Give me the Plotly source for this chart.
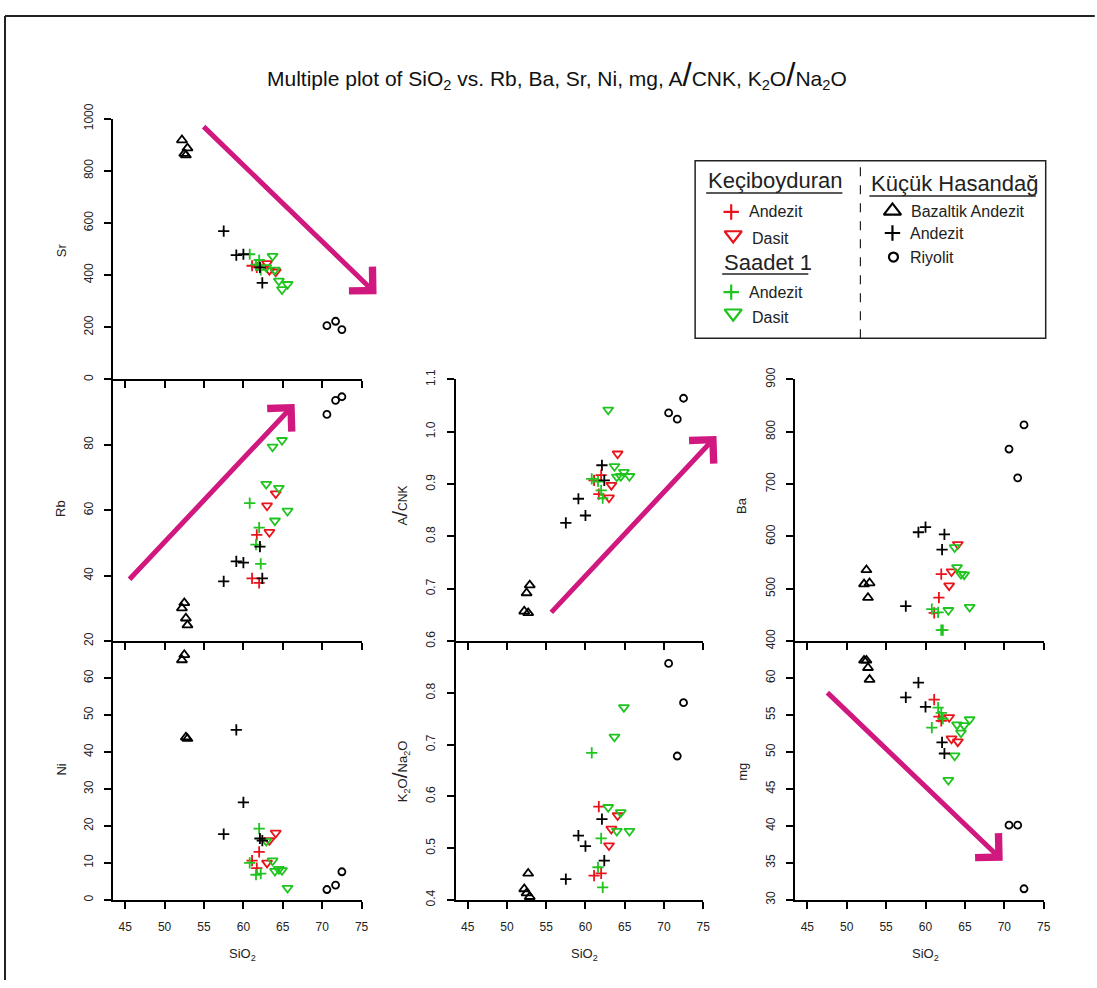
import plotly.graph_objects as go

W, H = 1097, 988
FONT = "Liberation Sans, Arial, Helvetica, sans-serif"

# ---------------- data ----------------
GROUPS = ["kec_and", "kec_das", "saa_and", "saa_das", "kh_ba", "kh_and", "kh_riy"]

SIO2 = {
    "kec_and": [61.1, 61.7, 62.0],
    "kec_das": [63.0, 63.3, 64.1],
    "saa_and": [60.8, 61.6, 62.0, 62.2],
    "saa_das": [62.9, 63.7, 64.0, 64.5, 64.9, 65.6],
    "kh_ba":   [52.2, 52.5, 52.7, 52.9],
    "kh_and":  [57.5, 59.1, 60.0, 62.1, 62.4],
    "kh_riy":  [70.6, 71.7, 72.5],
}
SR = {
    "kec_and": [436, 430, 440],
    "kec_das": [445, 419, 413],
    "saa_and": [480, 440, 458, 420],
    "saa_das": [430, 473, 420, 378, 345, 365],
    "kh_ba":   [918, 866, 860, 887],
    "kh_and":  [569, 477, 480, 430, 370],
    "kh_riy":  [206, 223, 191],
}
RB = {
    "kec_and": [39.2, 52.5, 37.8],
    "kec_das": [61.4, 53.3, 65.1],
    "saa_and": [62.2, 49.5, 54.7, 43.6],
    "saa_das": [68.0, 79.4, 56.8, 66.8, 81.4, 59.8],
    "kh_ba":   [30.1, 31.7, 27.0, 24.9],
    "kh_and":  [38.3, 44.4, 44.0, 48.9, 39.2],
    "kh_riy":  [89.3, 93.6, 94.7],
}
NI = {
    "kec_and": [10.6, 8.6, 13.0],
    "kec_das": [10.0, 16.1, 18.1],
    "saa_and": [10.0, 6.8, 19.3, 7.1],
    "saa_das": [15.9, 10.6, 7.8, 8.3, 8.0, 3.2],
    "kh_ba":   [64.9, 66.3, 44.0, 43.6],
    "kh_and":  [17.8, 46.0, 26.4, 16.6, 16.0],
    "kh_riy":  [2.8, 4.0, 7.6],
}
ACNK = {
    "kec_and": [0.907, 0.881, 0.917],
    "kec_das": [0.874, 0.898, 0.958],
    "saa_and": [0.910, 0.905, 0.888, 0.873],
    "saa_das": [1.042, 0.934, 0.914, 0.915, 0.923, 0.915],
    "kh_ba":   [0.657, 0.692, 0.654, 0.707],
    "kh_and":  [0.826, 0.872, 0.840, 0.936, 0.907],
    "kh_riy":  [1.036, 1.024, 1.064],
}
K2O_NA2O = {
    "kec_and": [0.447, 0.580, 0.451],
    "kec_das": [0.505, 0.537, 0.563],
    "saa_and": [0.684, 0.463, 0.519, 0.424],
    "saa_das": [0.579, 0.715, 0.533, 0.569, 0.772, 0.533],
    "kh_ba":   [0.421, 0.413, 0.451, 0.406],
    "kh_and":  [0.440, 0.524, 0.504, 0.556, 0.476],
    "kh_riy":  [0.857, 0.678, 0.781],
}
BA = {
    "kec_and": [454, 483, 528],
    "kec_das": [506, 533, 585],
    "saa_and": [461, 455, 421, 421],
    "saa_das": [459, 579, 541, 528, 527, 465],
    "kh_ba":   [509, 536, 483, 511],
    "kh_and":  [467, 608, 618, 575, 604],
    "kh_riy":  [767, 712, 813],
}
MG = {
    "kec_and": [57.1, 54.8, 54.2],
    "kec_das": [54.7, 51.8, 51.4],
    "saa_and": [53.3, 56.0, 55.3, 54.5],
    "saa_das": [46.2, 49.5, 53.7, 52.6, 53.6, 54.4],
    "kh_ba":   [62.4, 62.4, 61.4, 59.8],
    "kh_and":  [57.4, 59.4, 56.1, 51.3, 49.8],
    "kh_riy":  [40.1, 40.1, 31.5],
}

X_TICKS = [45, 50, 55, 60, 65, 70, 75]
SR_TICKS = [0, 200, 400, 600, 800, 1000]
RB_TICKS = [20, 40, 60, 80]
NI_TICKS = [0, 10, 20, 30, 40, 50, 60]
ACNK_TICKS = [0.6, 0.7, 0.8, 0.9, 1.0, 1.1]
K2O_TICKS = [0.4, 0.5, 0.6, 0.7, 0.8]
BA_TICKS = [400, 500, 600, 700, 800, 900]
MG_TICKS = [30, 35, 40, 45, 50, 55, 60]

# ---------------- styling ----------------
RED, GREEN, BLACK = "#E8141C", "#1FC41F", "#000000"
MAGENTA = "#D0187F"
STYLE = {
    "kec_and": ("cross-thin-open", RED, 8),
    "kec_das": ("triangle-down-open", RED, 9),
    "saa_and": ("cross-thin-open", GREEN, 8),
    "saa_das": ("triangle-down-open", GREEN, 9),
    "kh_ba":   ("triangle-up-open", BLACK, 9),
    "kh_and":  ("cross-thin-open", BLACK, 8),
    "kh_riy":  ("circle-open", BLACK, 7),
}
NAMES = {
    "kec_and": "Keçiboyduran Andezit", "kec_das": "Keçiboyduran Dasit",
    "saa_and": "Saadet 1 Andezit", "saa_das": "Saadet 1 Dasit",
    "kh_ba": "Küçük Hasandağ Bazaltik Andezit", "kh_and": "Küçük Hasandağ Andezit",
    "kh_riy": "Küçük Hasandağ Riyolit",
}

# Target positions are given in picture pixels; FX/FY map them into the
# figure's own pixel space (the photographed page comes out slightly
# shifted/scaled, measured on earlier runs).
SX, OX = 0.992, 1.0
SY, OY = 0.974, 15.6


def FX(X):
    return (X - OX) / SX


def FY(Y):
    return (Y - OY) / SY


def PX(X):
    return FX(X) / W


def PY(Y):
    return 1 - FY(Y) / H


# x position of ticks 45 and 75 per column; y pixel (top, bottom) per row
COL_PX = {1: (126, 362), 2: (468, 703), 3: (807, 1043)}
ROW_PX = {0: (119, 379), 1: (379, 640), 2: (640, 898)}
X_LEFT = 43.5

PANELS = [
    (SR, 1, 0, [0, 1000], SR_TICKS, "d", "Sr", (62, 250)),
    (RB, 1, 1, [20, 100], RB_TICKS, "d", "Rb", (62, 508)),
    (NI, 1, 2, [0, 70], NI_TICKS, "d", "Ni", (62, 768)),
    (ACNK, 2, 1, [0.6, 1.1], ACNK_TICKS, ".1f",
     "A<span style='font-size:21px'>/</span><span style='font-size:12px'>CNK</span>", (400, 505)),
    (K2O_NA2O, 2, 2, [0.4, 0.9], K2O_TICKS, ".1f",
     "K<sub>2</sub>O<span style='font-size:21px'>/</span>Na<sub>2</sub>O", (400, 770)),
    (BA, 3, 1, [400, 900], BA_TICKS, "d", "Ba", (742, 505)),
    (MG, 3, 2, [30, 65], MG_TICKS, "d", "mg", (742, 770)),
]


def xdom(col):
    p45, p75 = COL_PX[col]
    ppu = (p75 - p45) / 30.0
    left = p45 - (45 - X_LEFT) * ppu
    return [PX(left), PX(p75)]


def ydom(row):
    t, b = ROW_PX[row]
    return [PY(b), PY(t)]


def px_of(col, row, yr, xv, yv):
    p45, p75 = COL_PX[col]
    px = p45 + (xv - 45) * (p75 - p45) / 30.0
    t, b = ROW_PX[row]
    py = b - (yv - yr[0]) * (b - t) / (yr[1] - yr[0])
    return px, py


def ann(text, px, py, size, xanchor="center", angle=0, color="#222222"):
    return dict(text=text, x=PX(px), y=PY(py), xref="paper", yref="paper",
                xanchor=xanchor, yanchor="middle", showarrow=False, textangle=angle,
                font=dict(family=FONT, size=size, color=color))


fig = go.Figure()
layout = dict()
annotations = []
shapes = []
tickfont = dict(family=FONT, size=12, color="#222222")

for i, (data, col, row, yr, yt, fmt, lab, lpos) in enumerate(PANELS):
    n = i + 1
    xs = "x" if n == 1 else f"x{n}"
    ys = "y" if n == 1 else f"y{n}"
    for g in GROUPS:
        sym, colr, sz = STYLE[g]
        fig.add_trace(go.Scatter(
            x=SIO2[g], y=data[g], mode="markers", name=NAMES[g], showlegend=False,
            xaxis=xs, yaxis=ys, cliponaxis=False,
            marker=dict(symbol=sym, size=sz, color=colr, line=dict(color=colr, width=1.8)),
        ))
    layout["xaxis" if n == 1 else f"xaxis{n}"] = dict(
        domain=xdom(col), range=[X_LEFT, 75], anchor=ys, showline=True,
        linecolor="black", linewidth=2, ticks="outside", ticklen=7, tickwidth=2,
        tickcolor="black", tickmode="array", tickvals=X_TICKS,
        showticklabels=(row == 2), showgrid=False, zeroline=False,
        tickfont=tickfont, ticklabelstandoff=8,
    )
    layout["yaxis" if n == 1 else f"yaxis{n}"] = dict(
        domain=ydom(row), range=yr, anchor=xs, showline=True,
        linecolor="black", linewidth=2, ticks="outside", ticklen=7, tickwidth=2,
        tickcolor="black", tickmode="array", tickvals=yt, tickformat=fmt,
        tickangle=-90, showgrid=False, zeroline=False, tickfont=tickfont,
        ticklabelstandoff=7,
    )
    annotations.append(ann(lab, lpos[0], lpos[1], 13, angle=-90))

for cx in (243, 585, 925):
    annotations.append(ann("SiO<sub>2</sub>", cx, 952, 13))

annotations.append(ann(
    "Multiple plot of SiO<sub>2</sub> vs. Rb, Ba, Sr, Ni, mg, "
    "A<span style='font-size:33px'>/</span>CNK, "
    "K<sub>2</sub>O<span style='font-size:33px'>/</span>Na<sub>2</sub>O",
    557, 75, 21, color="#111111"))

# trend arrows (tail -> tip), in each panel's data coordinates
ARROWS = [
    (0, (54.9, 960), (76.9, 327)),
    (1, (45.5, 39.7), (66.5, 92.5)),
    (3, (55.6, 0.66), (76.7, 0.992)),
    (6, (47.5, 57.7), (69.8, 35.3)),
]
for pi, tail, tip in ARROWS:
    _, col, row, yr = PANELS[pi][:4]
    tx, ty = px_of(col, row, yr, *tail)
    hx, hy = px_of(col, row, yr, *tip)
    annotations.append(dict(
        x=PX(hx), y=PY(hy), xref="paper", yref="paper",
        ax=FX(tx) - FX(hx), ay=FY(ty) - FY(hy),
        axref="pixel", ayref="pixel", text="", showarrow=True, arrowhead=4,
        arrowsize=1.3, arrowwidth=5, arrowcolor=MAGENTA, standoff=0,
    ))

# ---------------- legend box (pixel helper axis, picture pixels) ----------------
LX, LY = "x8", "y8"
layout["xaxis8"] = dict(domain=[0, 1], range=[OX, OX + SX * W], visible=False,
                        anchor="y8", fixedrange=True)
layout["yaxis8"] = dict(domain=[0, 1], range=[OY + SY * H, OY], visible=False,
                        anchor="x8", fixedrange=True)

LEG_ITEMS = [
    ("kec_and", 731, 212, "Andezit", 747, 212, 11),
    ("kec_das", 733, 235, "Dasit", 750, 238, 15),
    ("saa_and", 731, 292, "Andezit", 747, 292, 11),
    ("saa_das", 733, 313, "Dasit", 750, 317, 15),
    ("kh_ba", 892, 211, "Bazaltik Andezit", 909, 212, 15),
    ("kh_and", 892, 233, "Andezit", 908, 233, 11),
    ("kh_riy", 893, 257, "Riyolit", 908, 257, 9),
]
for g, mx, my, txt, tx, ty, sz in LEG_ITEMS:
    sym, colr, _ = STYLE[g]
    fig.add_trace(go.Scatter(
        x=[mx], y=[my], mode="markers", xaxis=LX, yaxis=LY, showlegend=False,
        hoverinfo="skip", cliponaxis=False,
        marker=dict(symbol=sym, size=sz, color=colr, line=dict(color=colr, width=2.2)),
    ))
    annotations.append(ann(txt, tx, ty, 16, xanchor="left"))

for txt, tx, ty, ux1 in (("Keçiboyduran", 706, 181, 842), ("Saadet 1", 722, 262, 808),
                          ("Küçük Hasandağ", 869, 184, 1035)):
    annotations.append(ann(txt, tx, ty, 22, xanchor="left"))
    shapes.append(dict(type="line", xref="paper", yref="paper", x0=PX(tx), x1=PX(ux1),
                       y0=PY(ty + 12), y1=PY(ty + 12),
                       line=dict(color="#222222", width=1.5)))

shapes.append(dict(type="rect", xref="paper", yref="paper", x0=PX(695), x1=PX(1045),
                   y0=PY(338), y1=PY(161), line=dict(color="#222222", width=1.5)))
shapes.append(dict(type="line", xref="paper", yref="paper", x0=PX(860), x1=PX(860),
                   y0=PY(338), y1=PY(161),
                   line=dict(color="#222222", width=1.2, dash="dash")))

# outer frame (left and top)
shapes.append(dict(type="line", xref="paper", yref="paper", x0=PX(6), x1=PX(6),
                   y0=0, y1=0.999, line=dict(color="#222222", width=2)))
shapes.append(dict(type="line", xref="paper", yref="paper", x0=PX(6), x1=PX(1094),
                   y0=0.999, y1=0.999, line=dict(color="#222222", width=2)))

fig.update_layout(
    width=W, height=H, margin=dict(l=0, r=0, t=0, b=0), autosize=False,
    paper_bgcolor="white", plot_bgcolor="rgba(0,0,0,0)",
    font=dict(family=FONT, size=12, color="#222222"),
    annotations=annotations, shapes=shapes, showlegend=False, **layout,
)

POST = (
    "document.documentElement.style.margin='0';"
    "document.body.style.margin='0';"
    "document.body.style.overflow='hidden';"
    "var gd=document.getElementById('{plot_id}');"
    "gd.style.position='fixed';gd.style.top='0px';gd.style.left='0px';"
)
fig.write_html("out.html", config={"displayModeBar": False, "responsive": False},
               post_script=POST)
